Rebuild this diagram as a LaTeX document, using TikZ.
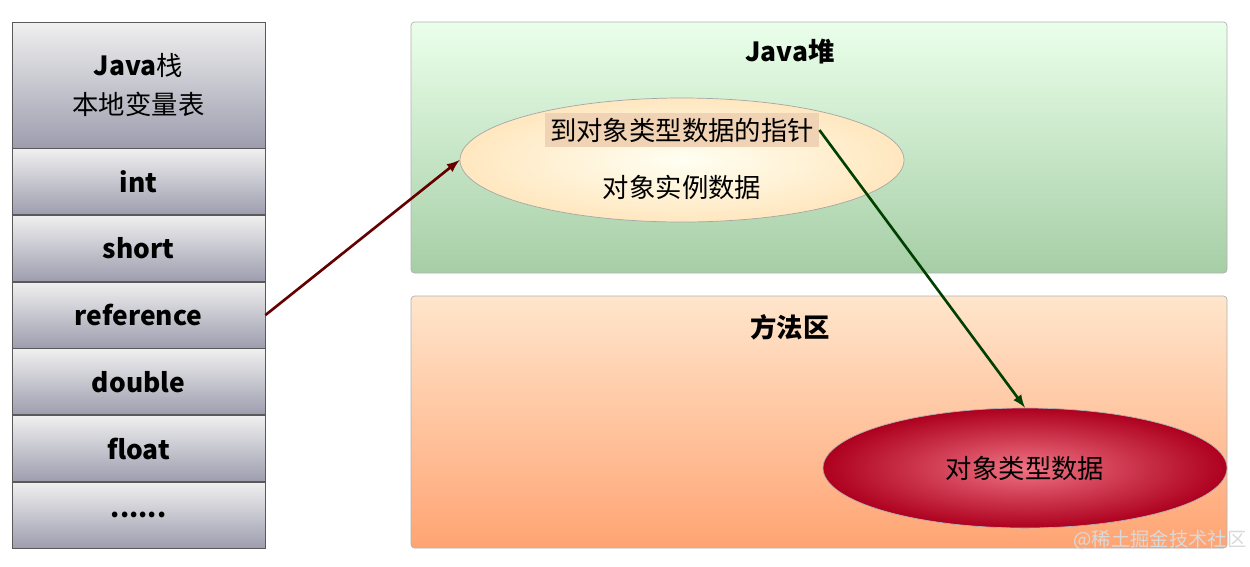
\documentclass[tikz,border=0pt]{standalone}
\usepackage{fontspec}
\setmainfont{Noto Sans CJK SC}
\usetikzlibrary{positioning,shapes.geometric}

\begin{document}
\begin{tikzpicture}[x=0.02cm,y=-0.02cm,
    cell/.style={draw=gray!70!black, top color=gray!12, bottom color=blue!10!gray!70, minimum width=253*0.02cm, inner sep=0pt, font=\bfseries\fontsize{15}{17}\selectfont},
    area/.style={draw=gray!60, rounded corners=2pt},
    title/.style={font=\bfseries\fontsize{15}{17}\selectfont},
    label/.style={font=\fontsize{15}{17}\selectfont}]

    \useasboundingbox (0,0) rectangle (1250,566);
    \fill[white] (0,0) rectangle (1250,566);

    % stack frame
    \node[cell, minimum height=126*0.02cm, align=center, font=\fontsize{15}{22}\selectfont] (head) at (138.5,85) {\textbf{Java}栈\\本地变量表};
    \node[cell, minimum height=66*0.02cm, below=0pt of head] (int) {int};
    \node[cell, minimum height=66*0.02cm, below=0pt of int] (short) {short};
    \node[cell, minimum height=66*0.02cm, below=0pt of short] (ref) {reference};
    \node[cell, minimum height=66*0.02cm, below=0pt of ref] (double) {double};
    \node[cell, minimum height=66*0.02cm, below=0pt of double] (float) {float};
    \node[cell, minimum height=66*0.02cm, below=0pt of float] (more) {......};

    % heap
    \draw[area, top color=green!8, bottom color=green!45!black!35] (411,22) rectangle (1227,273);
    \node[title] (heap) at (790,52) {Java堆};
    \node[ellipse, draw=gray!70, inner color=yellow!5, outer color=yellow!25!orange!25, minimum width=444*0.02cm, minimum height=124*0.02cm] (obj) at (682,160) {};
    \node[label, fill=orange!35!brown!35, inner sep=3pt] (ptr) at (682,130) {到对象类型数据的指针};
    \node[label] (inst) at (682,187) {对象实例数据};

    % method area
    \draw[area, top color=orange!20, bottom color=orange!70!red!55] (411,296) rectangle (1227,548);
    \node[title] (meth) at (790,327) {方法区};
    \node[ellipse, draw=gray!60, inner color=purple!45!red!55, outer color=purple!60!red!80!black, minimum width=404*0.02cm, minimum height=120*0.02cm] (type) at (1025,468) {};
    \node[label] (typelbl) at (type) {对象类型数据};

    \node[font=\fontsize{11}{13}\selectfont, text=white!70!gray] (mark) at (1160,540) {@稀土掘金技术社区};

    % connectors
    \draw[-latex, line width=1.5pt, red!40!black] (ref.east) -- (obj.west);
    \draw[-latex, line width=1.5pt, green!25!black] (ptr.east) -- (type.north);
\end{tikzpicture}
\end{document}
